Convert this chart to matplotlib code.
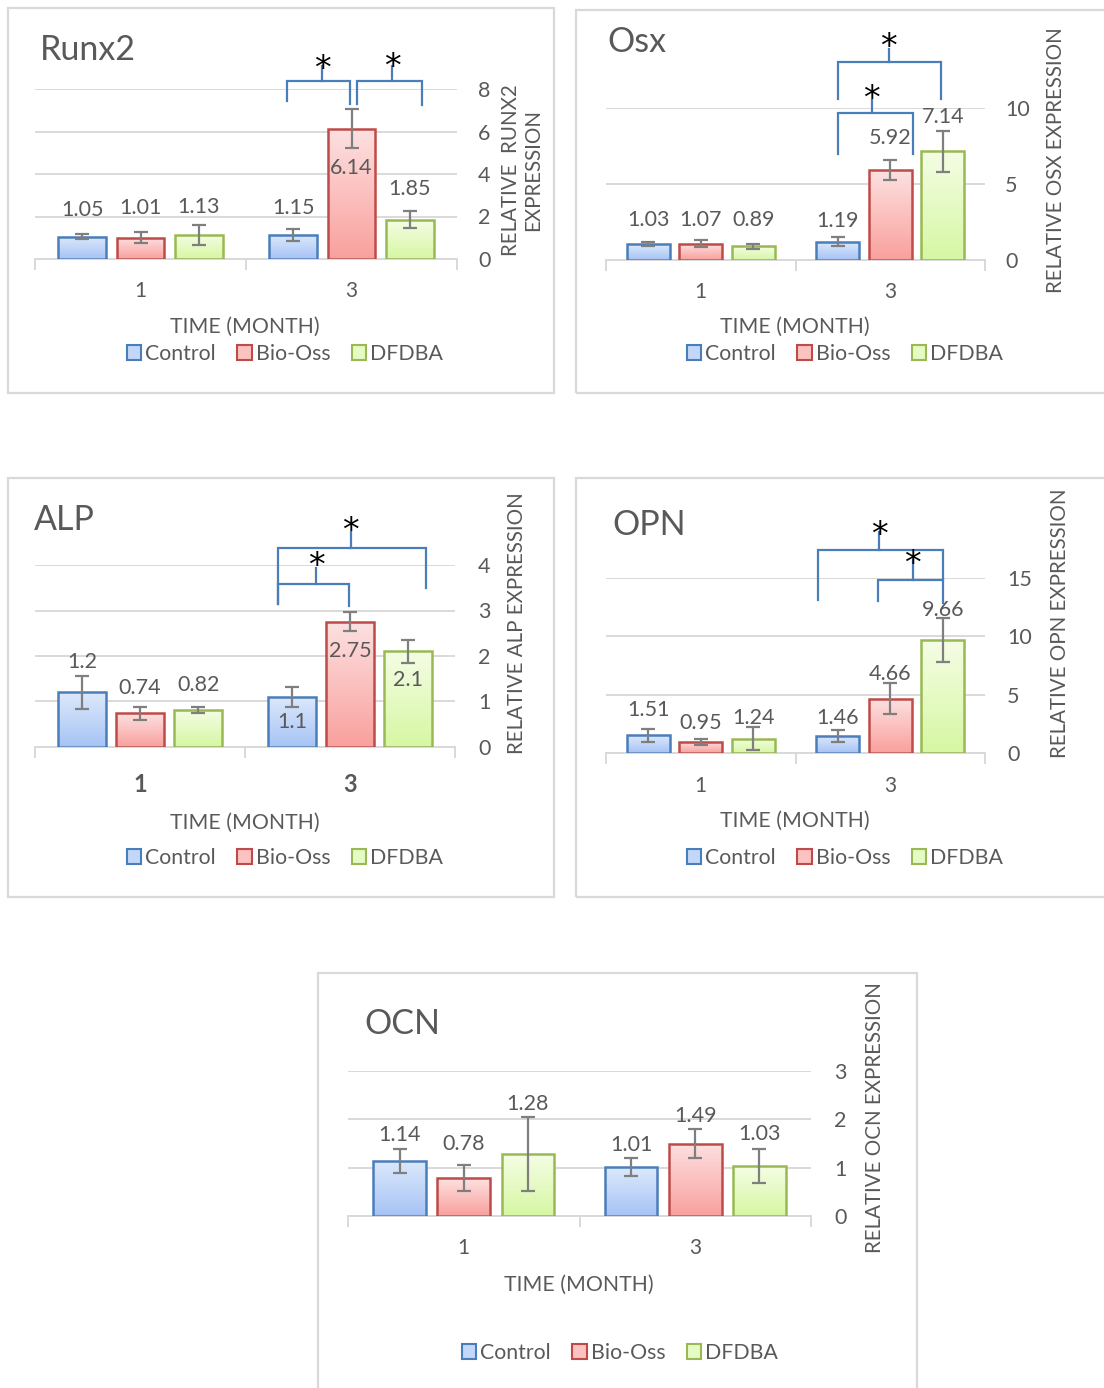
import numpy as np
import matplotlib
matplotlib.use("Agg")
import matplotlib.pyplot as plt
from matplotlib.patches import Rectangle, Patch
from matplotlib.colors import LinearSegmentedColormap

# ---------------- data ----------------
months = ["1", "3"]
groups = ["Control", "Bio-Oss", "DFDBA"]

# order: month1 (Control, Bio-Oss, DFDBA), month3 (Control, Bio-Oss, DFDBA)
runx2_mean = [1.05, 1.01, 1.13, 1.15, 6.14, 1.85]
runx2_err = [0.12, 0.25, 0.49, 0.28, 0.90, 0.40]
runx2_yticks = [0, 2, 4, 6, 8]

osx_mean = [1.03, 1.07, 0.89, 1.19, 5.92, 7.14]
osx_err = [0.14, 0.22, 0.15, 0.30, 0.65, 1.35]
osx_yticks = [0, 5, 10]

alp_mean = [1.2, 0.74, 0.82, 1.1, 2.75, 2.1]
alp_err = [0.36, 0.14, 0.07, 0.21, 0.21, 0.26]
alp_yticks = [0, 1, 2, 3, 4]

opn_mean = [1.51, 0.95, 1.24, 1.46, 4.66, 9.66]
opn_err = [0.57, 0.26, 1.0, 0.52, 1.3, 1.9]
opn_yticks = [0, 5, 10, 15]

ocn_mean = [1.14, 0.78, 1.28, 1.01, 1.49, 1.03]
ocn_err = [0.24, 0.27, 0.76, 0.19, 0.30, 0.35]
ocn_yticks = [0, 1, 2, 3]

# ---------------- style ----------------
W, H = 1104, 1388
plt.rcParams["font.family"] = ["Lato", "DejaVu Sans"]
GRAY = "#595959"
GRID = "#d9d9d9"
EDGE = ["#4a7ebb", "#be4b48", "#98b954"]
TOP = ["#dde9fb", "#fde1e1", "#f5fde5"]
BOT = ["#a6c3f5", "#f9a09d", "#d6f7a2"]
MID = ["#c3d7f8", "#fbc2c1", "#e6fac4"]
BRACKET = "#4a7ebb"

fig = plt.figure(figsize=(W / 100, H / 100), dpi=100)


def fx(x):
    return x / W


def fy(y):
    return 1 - y / H


def frame(x0, y0, x1, y1):
    fig.add_artist(Rectangle((fx(x0), fy(y1)), fx(x1 - x0), (y1 - y0) / H,
                             transform=fig.transFigure, fill=False,
                             ec=GRID, lw=1.6))


offsets = [-0.277, 0.0, 0.277]
bw = 0.227
grad = np.linspace(0, 1, 256).reshape(-1, 1)


def panel(title, mean, err, yticks, ylabel, L):
    left, right, y0, ytop = L["axes"]
    ax = fig.add_axes([fx(left), fy(y0), (right - left) / W, (y0 - ytop) / H])
    xs = [g + o for g in range(len(months)) for o in offsets]
    bars = ax.bar(xs, mean, width=bw, facecolor="none",
                  edgecolor=[EDGE[i % 3] for i in range(len(xs))],
                  lw=1.8, zorder=3)
    for i, r in enumerate(bars):
        c = i % 3
        cmap = LinearSegmentedColormap.from_list("g", [BOT[c], TOP[c]])
        im = ax.imshow(grad, extent=[r.get_x(), r.get_x() + r.get_width(), 0, r.get_height()],
                       origin="lower", aspect="auto", cmap=cmap, zorder=2)
        im.set_clip_path(r)
    ax.errorbar(xs, mean, yerr=err, fmt="none", ecolor="#7f7f7f",
                elinewidth=1.6, capsize=5, capthick=1.6, zorder=4)
    ax.set_xlim(-0.5, len(months) - 0.5)
    ax.set_ylim(yticks[0], yticks[-1])

    # data labels
    for x, v, ly in zip(xs, mean, L["labels"]):
        ax.text(x, ly, f"{v:g}", ha="center", va="center", fontsize=15.5,
                color=GRAY, zorder=5, clip_on=False)

    # axes styling
    for s in ["top", "left", "right"]:
        ax.spines[s].set_visible(False)
    ax.spines["bottom"].set_color(GRID)
    ax.spines["bottom"].set_linewidth(1.4)
    ax.yaxis.tick_right()
    ax.set_yticks(yticks)
    ax.tick_params(axis="y", length=0, pad=L["ypad"] * 0.72, labelsize=15.5,
                   labelcolor=GRAY)
    ax.yaxis.grid(True, color=GRID, lw=1.4)
    ax.set_axisbelow(True)
    ax.set_xticks(range(len(months)))
    ax.set_xticklabels(months, fontweight=L.get("xweight", "normal"))
    ax.tick_params(axis="x", length=0, pad=L["xpad"] * 0.72,
                   labelsize=L.get("xsize", 15), labelcolor=GRAY)
    ax.set_xticks([-0.5 + k for k in range(len(months) + 1)], minor=True)
    ax.tick_params(axis="x", which="minor", length=8, width=1.4, color=GRID)

    # significance brackets
    for (xl, xr, yb, yl, yr, xsm, ys, sy) in L.get("brackets", []):
        ax.plot([xl, xl, xr, xr], [yl, yb, yb, yr], color=BRACKET, lw=1.6,
                clip_on=False, zorder=5, solid_joinstyle="miter")
        ax.plot([xsm, xsm], [yb, ys], color=BRACKET, lw=1.6, clip_on=False, zorder=5)
        ax.annotate("*", xy=(xsm, sy), xytext=(0, -6), textcoords="offset points",
                    ha="center", va="center", fontsize=24, color="black",
                    annotation_clip=False, zorder=6, family=["DejaVu Sans"])

    # titles and labels
    tx, ty = L["title"]
    fig.text(fx(tx), fy(ty), title, ha="left", va="center", fontsize=24.5, color=GRAY)
    lx, lyc = L["ylabel"]
    fig.text(fx(lx), fy(lyc), ylabel, ha="center", va="center", rotation=90,
             fontsize=14.8, color=GRAY, multialignment="center", linespacing=1.15)
    mx, my = L["xlabel"]
    fig.text(fx(mx), fy(my), "TIME (MONTH)", ha="center", va="center",
             fontsize=15.3, color=GRAY)
    gx, gy = L["legend"]
    handles = [Patch(facecolor=MID[i], edgecolor=EDGE[i], lw=1.5) for i in range(3)]
    fig.legend(handles, groups, loc="center", bbox_to_anchor=(fx(gx), fy(gy)),
               bbox_transform=fig.transFigure, ncol=3, frameon=False,
               fontsize=15.3, labelcolor=GRAY, handlelength=0.68, handleheight=0.68,
               handletextpad=0.2, columnspacing=1.0, borderpad=0)
    return ax


# ---------------- layout (pixels) ----------------
frame(8, 8, 554, 393)
frame(576, 10, 1112, 393)
frame(8, 478, 554, 897)
frame(576, 478, 1112, 897)
frame(318, 973, 917, 1396)

panel("Runx2", runx2_mean, runx2_err, runx2_yticks, "RELATIVE  RUNX2\nEXPRESSION", dict(
    axes=(35, 457, 259, 89), ypad=21, xpad=22,
    labels=[2.3, 2.38, 2.43, 2.38, 4.27, 3.29],
    brackets=[(0.693, 0.995, 8.39, 7.45, 7.29, 0.86, 9.07, 9.3),
              (1.025, 1.334, 8.39, 7.29, 7.26, 1.193, 9.07, 9.4)],
    title=(40, 50), ylabel=(522, 170), xlabel=(245, 327), legend=(285, 354)))

panel("Osx", osx_mean, osx_err, osx_yticks, "RELATIVE OSX EXPRESSION", dict(
    axes=(606, 985, 260, 108), ypad=20, xpad=22,
    labels=[2.64, 2.64, 2.64, 2.55, 8.0, 9.38],
    brackets=[(0.722, 1.268, 13.02, 10.6, 10.6, 0.991, 13.9, 14.5),
              (0.722, 1.12, 9.65, 6.98, 6.98, 0.902, 10.5, 11.1)],
    title=(607, 42), ylabel=(1056, 160), xlabel=(795, 327), legend=(845, 354)))

panel("ALP", alp_mean, alp_err, alp_yticks, "RELATIVE ALP EXPRESSION", dict(
    axes=(35, 455, 747, 565), ypad=23, xpad=26, xweight="bold", xsize=17,
    labels=[1.86, 1.29, 1.36, 0.54, 2.12, 1.47],
    brackets=[(0.655, 1.363, 4.37, 3.14, 3.5, 1.004, 4.72, 4.93),
              (0.655, 0.996, 3.59, 3.14, 3.1, 0.838, 3.93, 4.15)],
    title=(34, 520), ylabel=(517, 623), xlabel=(245, 823), legend=(285, 858)))

panel("OPN", opn_mean, opn_err, opn_yticks, "RELATIVE OPN EXPRESSION", dict(
    axes=(606, 985, 753, 578), ypad=22, xpad=23,
    labels=[3.7, 2.56, 2.99, 2.99, 6.78, 12.25],
    brackets=[(0.617, 1.276, 17.38, 13.1, 12.82, 0.94, 18.95, 19.4),
              (0.934, 1.276, 14.87, 13.02, 14.87, 1.118, 16.58, 16.9)],
    title=(612, 525), ylabel=(1060, 623), xlabel=(795, 821), legend=(845, 858)))

panel("OCN", ocn_mean, ocn_err, ocn_yticks, "RELATIVE OCN EXPRESSION", dict(
    axes=(348, 811, 1216, 1071), ypad=23, xpad=22,
    labels=[1.67, 1.48, 2.32, 1.46, 2.07, 1.69],
    title=(364, 1024), ylabel=(875, 1118), xlabel=(579, 1285), legend=(620, 1353)))

fig.savefig("out.png", dpi=100)
